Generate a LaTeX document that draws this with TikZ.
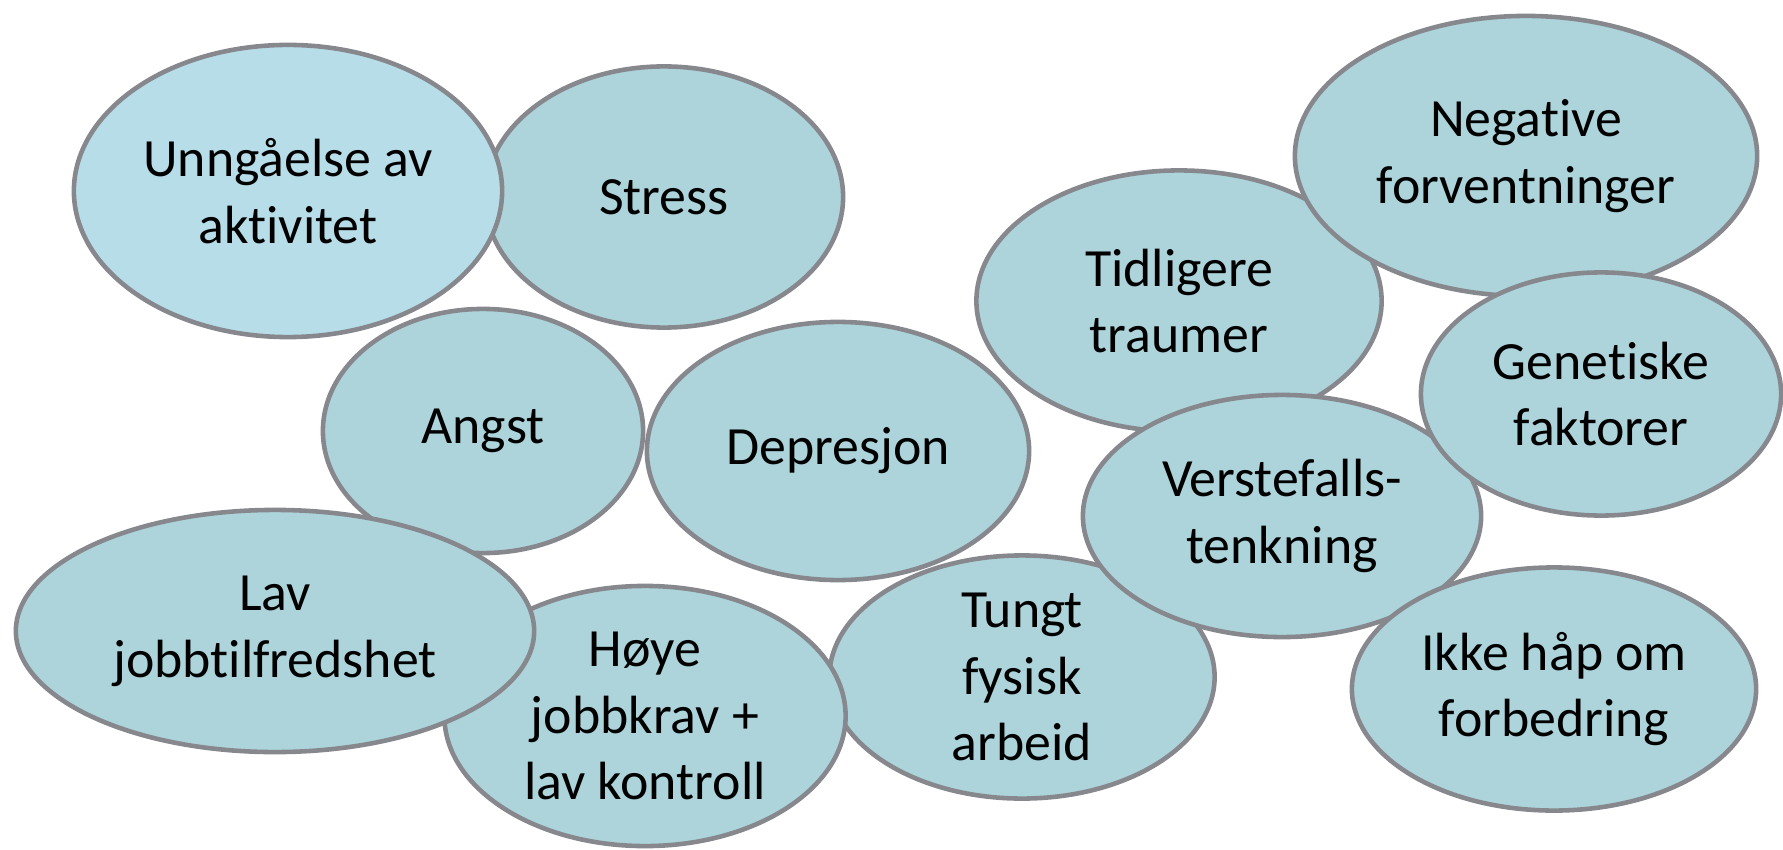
\documentclass[tikz,border=0pt]{standalone}
\usepackage{fontspec}
\setmainfont{Carlito}[Ligatures=NoCommon]
\usetikzlibrary{shapes.geometric}
\definecolor{bubfill}{HTML}{ACD4DA}
\definecolor{bubhi}{HTML}{B7DDE8}
\definecolor{bubline}{HTML}{87888D}

\begin{document}
\begin{tikzpicture}[x=0.01cm,y=-0.01cm,
  bub/.style 2 args={ellipse,draw=bubline,line width=1.3pt,fill=bubfill,inner sep=0pt,
    minimum width=#1cm,minimum height=#2cm,align=center,
    font=\fontsize{15.3}{19}\selectfont}]
 \useasboundingbox (0,0) rectangle (1783,849);
 % back row first, overlapping ones later
 \node[bub={3.58}{2.61}] (stress) at (664,197) {Stress};
 \node[bub={4.28}{2.92},fill=bubhi] (unng) at (288,191) {Unngåelse av\\aktivitet};
 \node[bub={3.20}{2.44}] (angst) at (483,431) {Angst};
 \node[bub={3.82}{2.58}] (depr) at (838,451) {Depresjon};
 \node[bub={4.05}{2.61}] (tidl) at (1179,301) {Tidligere\\traumer};
 \node[bub={4.62}{2.80}] (neg) at (1526,156) {Negative\\forventninger};
 \node[bub={3.85}{2.43}] (tungt) at (1022,677) {Tungt\\fysisk\\arbeid};
 \node[bub={4.01}{2.60}] (hoye) at (645,716) {Høye\\jobbkrav +\\lav kontroll};
 \node[bub={5.18}{2.42}] (lav) at (275,631) {Lav\\jobbtilfredshet};
 \node[bub={3.98}{2.42}] (verst) at (1282,516) {Verstefalls-\\tenkning};
 \node[bub={3.60}{2.43}] (gen) at (1601,394) {Genetiske\\faktorer};
 \node[bub={4.04}{2.43}] (ikke) at (1554,689) {Ikke håp om\\forbedring};
\end{tikzpicture}
\end{document}
